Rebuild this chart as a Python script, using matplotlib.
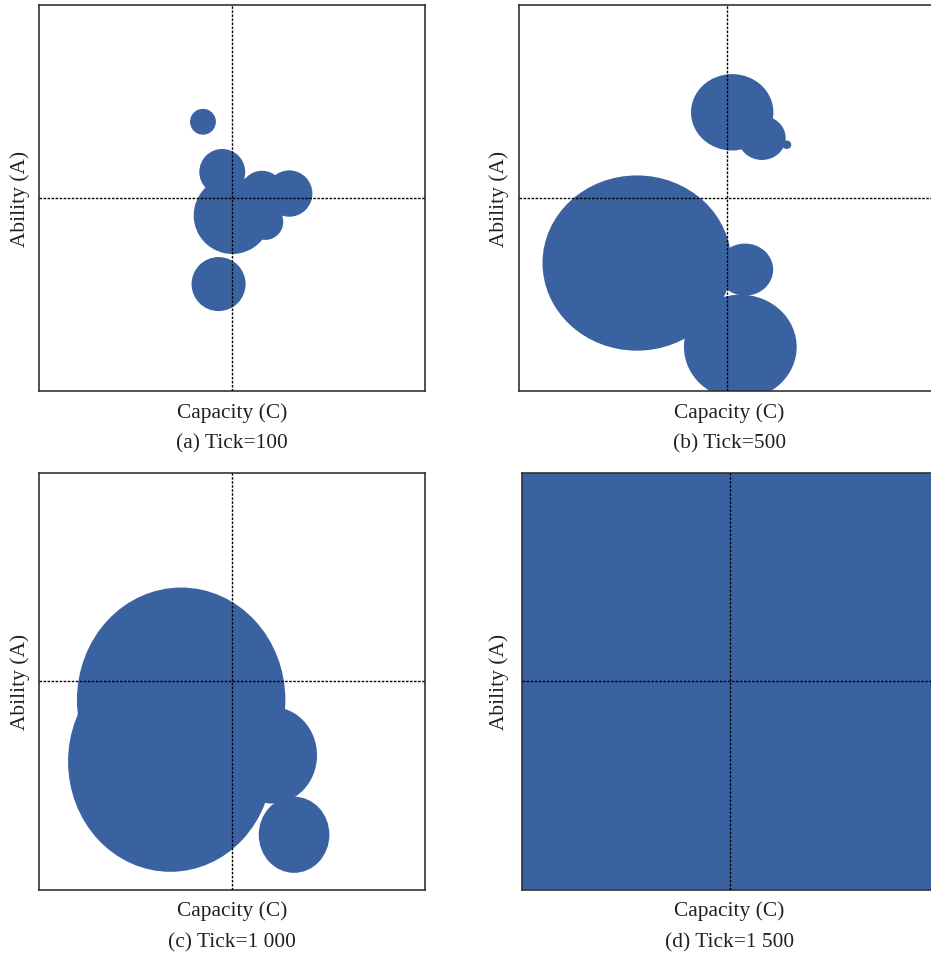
import matplotlib
matplotlib.use('Agg')
import matplotlib.pyplot as plt
from matplotlib.patches import Circle

plt.rcParams['font.family'] = ['Liberation Serif', 'DejaVu Serif']

# agent positions (capacity, ability) and influence radius at each tick
tick100_cap = [-0.152, -0.052, 0.000, 0.154, 0.171, 0.295, -0.071]
tick100_abl = [0.395, 0.135, -0.090, 0.027, -0.124, 0.023, -0.446]
tick100_rad = [0.067, 0.119, 0.200, 0.114, 0.093, 0.120, 0.140]

tick500_cap = [0.025, 0.168, 0.287, -0.433, 0.087, 0.064]
tick500_abl = [0.444, 0.311, 0.276, -0.337, -0.371, -0.772]
tick500_rad = [0.198, 0.114, 0.022, 0.454, 0.135, 0.271]

tick1000_cap = [-0.265, -0.321, 0.207, 0.320]
tick1000_abl = [-0.089, -0.385, -0.355, -0.737]
tick1000_rad = [0.540, 0.530, 0.232, 0.183]

tick1500_cap = [0.0]
tick1500_abl = [0.0]
tick1500_rad = [1.5]

captions = ['(a) Tick=100', '(b) Tick=500', '(c) Tick=1 000', '(d) Tick=1 500']

BLUE = '#3a62a1'
TEXT = '#231f20'
W, H = 931, 954


def px_axes(fig, left, top, right, bottom):
    return fig.add_axes([left / W, 1 - bottom / H, (right - left) / W, (bottom - top) / H])


def draw_panel(ax, caps, abls, rads):
    for c, a, r in zip(caps, abls, rads):
        ax.add_patch(Circle((c, a), r, facecolor=BLUE, edgecolor='none', zorder=1))
    ax.axvline(0, color='black', lw=1.0, linestyle=(0, (1.8, 1.1)), zorder=3)
    ax.axhline(0, color='black', lw=1.0, linestyle=(0, (1.8, 1.1)), zorder=3)
    ax.set_xlim(-1, 1)
    ax.set_ylim(-1, 1)
    ax.set_xticks([])
    ax.set_yticks([])
    for s in ax.spines.values():
        s.set_color('#333333')
        s.set_linewidth(1.2)


fig = plt.figure(figsize=(W / 100, H / 100), dpi=100)

# pixel boxes: left, top, right, bottom
boxes = [(39.3, 6, 425.3, 392),
         (519, 6, 935, 392),
         (39.3, 474.3, 425.3, 890.5),
         (521.7, 474.3, 938, 890.5)]
data = [(tick100_cap, tick100_abl, tick100_rad),
        (tick500_cap, tick500_abl, tick500_rad),
        (tick1000_cap, tick1000_abl, tick1000_rad),
        (tick1500_cap, tick1500_abl, tick1500_rad)]
ylab_x = [20, 499, 20, 499]
xlab_base = [418, 418, 915.7, 915.7]
cap_base = [448.3, 448.3, 947.3, 947.3]
text_cx = [232.3, 729.5, 232.3, 729.5]

for i in range(4):
    l, t, r, b = boxes[i]
    ax = px_axes(fig, l, t, r, b)
    draw_panel(ax, *data[i])
    cy = (t + b) / 2
    fig.text(ylab_x[i] / W, 1 - cy / H, 'Ability (A)', rotation=90,
             ha='center', va='center', fontsize=15.4, color=TEXT)
    fig.text(text_cx[i] / W, 1 - xlab_base[i] / H, 'Capacity (C)',
             ha='center', va='baseline', fontsize=15.4, color=TEXT)
    fig.text(text_cx[i] / W, 1 - cap_base[i] / H, captions[i],
             ha='center', va='baseline', fontsize=15.4, color=TEXT)

fig.savefig('out.png', dpi=100)
